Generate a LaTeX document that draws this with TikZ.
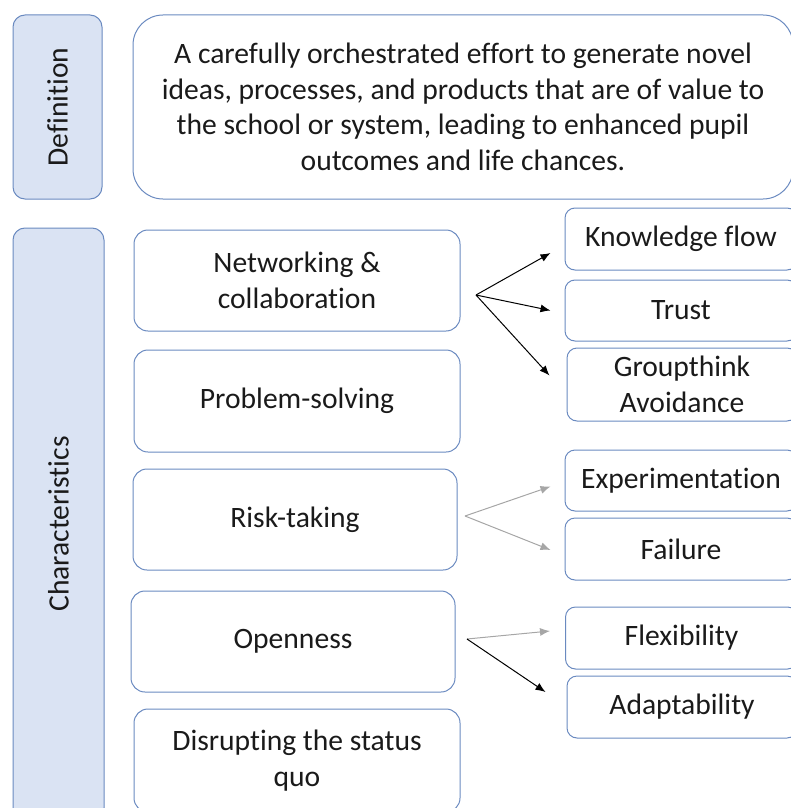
\documentclass[tikz,border=0pt]{standalone}
\usepackage{fontspec}
\setmainfont{Carlito}[Ligatures=NoCommon]
\usepackage{tikz}
\usetikzlibrary{calc, arrows.meta, positioning}
\definecolor{boxline}{HTML}{6A8AC0}
\definecolor{boxfill}{HTML}{DAE3F3}
\definecolor{arrgray}{HTML}{A6A6A6}
\definecolor{txt}{HTML}{1A1A1A}

\begin{document}
\begin{tikzpicture}[x=1pt,y=-1pt,
        box/.style={draw=boxline, line width=1pt, rounded corners=14pt, align=center,
            inner sep=0pt, text=txt, font=\fontsize{29.6}{35.5}\selectfont},
        side/.style={box, fill=boxfill, rounded corners=12pt},
        sub/.style={box, rounded corners=10pt, minimum width=232pt, minimum height=62pt},
        mid/.style={box, minimum width=326pt, minimum height=101pt},
        arr/.style={-{Latex[length=10pt,width=8pt]}, line width=1pt}]
                \clip (0,0) rectangle (791,808);
                % left column
                \node[side, minimum width=89pt, minimum height=184pt] (def) at (57.5,107) {\rotatebox{90}{Definition}};
                \node[side, minimum width=91pt, minimum height=592pt] (char) at (58.5,524) {\rotatebox{90}{Characteristics}};
                \node[box, rounded corners=30pt, minimum width=660pt, minimum height=184pt] (deftext) at (463,107)
                    {A carefully orchestrated effort to generate novel\\ideas, processes, and products that are of value to\\the school or system, leading to enhanced pupil\\outcomes and life chances.};
                % characteristics
                \node[mid] (net) at (297,280.5) {Networking \&\\collaboration};
                \node[mid, minimum height=102pt] (prob) at (297,401) {Problem-solving};
                \node[mid, minimum width=324pt] (risk) at (295,519.5) {Risk-taking};
                \node[mid, minimum width=324pt] (open) at (293,641.5) {Openness};
                \node[mid, minimum height=103pt] (disr) at (297,760.5) {Disrupting the status\\quo};
                % sub-characteristics
                \node[sub] (know) at (681,239) {Knowledge flow};
                \node[sub, minimum height=61pt] (trust) at (681,310.5) {Trust};
                \node[sub, minimum width=230pt, minimum height=73pt] (group) at (682,384.5) {Groupthink\\Avoidance};
                \node[sub, minimum height=61pt] (exper) at (681,480.5) {Experimentation};
                \node[sub] (fail) at (681,549) {Failure};
                \node[sub] (flex) at (681.5,638) {Flexibility};
                \node[sub, minimum width=230pt] (adapt) at (682,707) {Adaptability};
                % arrows
                \coordinate (netfork) at (476,295);
                \coordinate (riskfork) at (465,516);
                \coordinate (openfork) at (467,639);
                \draw[arr] (netfork) -- ($(know.west)+(-14,14)$);
                \draw[arr] (netfork) -- ($(trust.west)+(-14,0)$);
                \draw[arr] (netfork) -- ($(group.west)+(-17,-9)$);
                \draw[arr, arrgray] (riskfork) -- ($(exper.west)+(-14,6)$);
                \draw[arr, arrgray] (riskfork) -- ($(fail.west)+(-14,1)$);
                \draw[arr, arrgray] (openfork) -- ($(flex.west)+(-15,-7)$);
                \draw[arr] (openfork) -- ($(adapt.west)+(-21,-15)$);
\end{tikzpicture}
\end{document}
